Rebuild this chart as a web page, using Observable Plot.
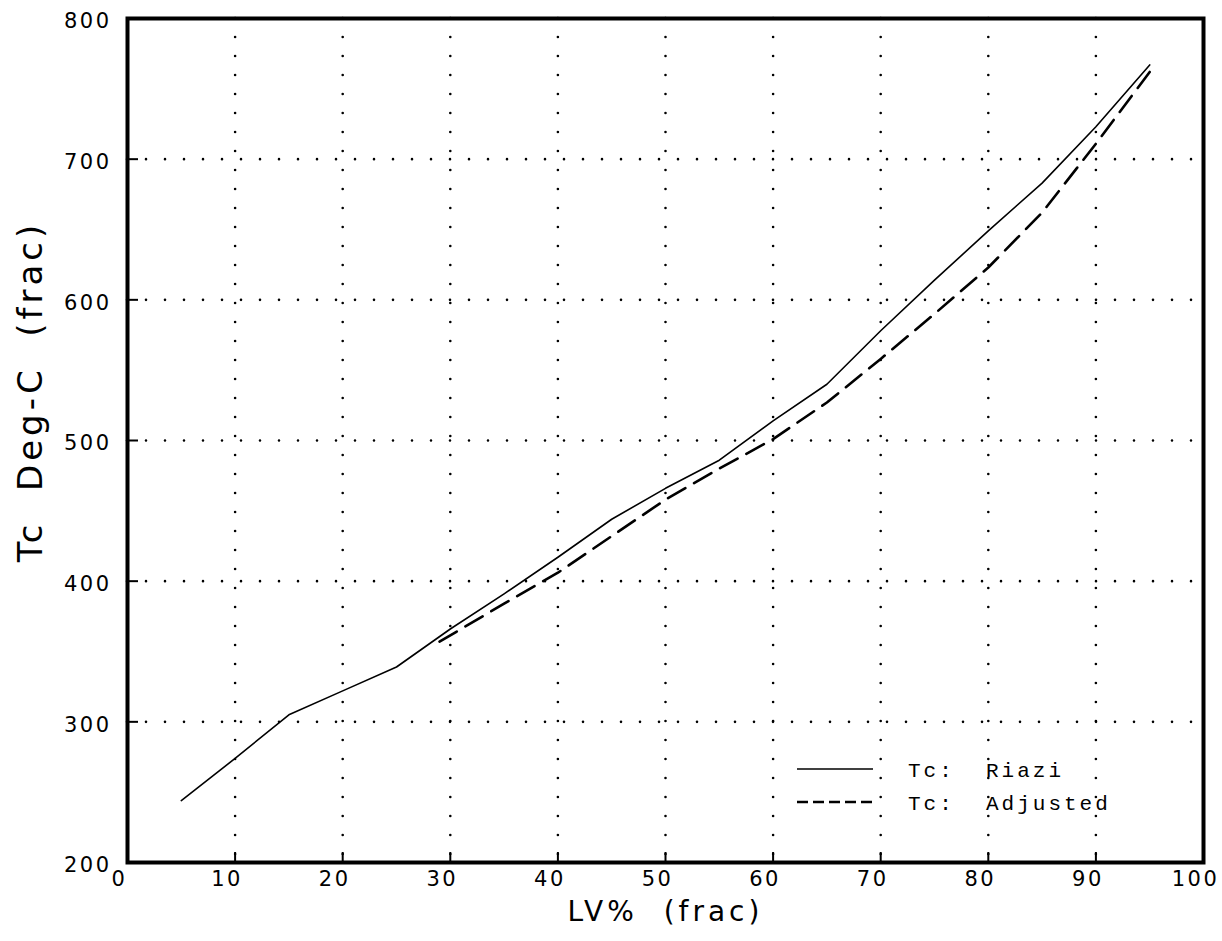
<!DOCTYPE html>
<html><head><meta charset="utf-8">
<script src="https://cdn.jsdelivr.net/npm/d3@7"></script>
<script src="https://cdn.jsdelivr.net/npm/@observablehq/plot@0.6"></script>
<style>
body{margin:0;background:#fff;}
#wrap{position:relative;width:1222px;height:941px;}
svg text{white-space:pre;}
g[aria-label$="tick label"]{font-size:21px !important;}
g[aria-label$="tick label"] text{letter-spacing:2.5px;font-size:21px;}
#legend{position:absolute;left:0;top:0;pointer-events:none;}
#legend text{font-family:"Liberation Mono",monospace;font-size:21px;letter-spacing:3px;white-space:pre;}
</style></head><body><div id="wrap"></div>
<script>
// ---- data ----
const lvRiazi = [5,10,15,20,25,30,35,40,45,50,55,60,65,70,75,80,85,90,95];
const tcRiazi = [244,274,305,322,339,366,391,417,444,466,486,514,540,578,614,649,683,723,767];
const lvAdjusted = [29,35,40,45,50,55,60,65,70,75,80,85,90,95];
const tcAdjusted = [357,384,406,432,458,480,501,527,558,590,623,662,711,762];
const xTicks = [0,10,20,30,40,50,60,70,80,90,100];
const yTicks = [200,300,400,500,600,700,800];
const xGrid = [10,20,30,40,50,60,70,80,90];
const yGrid = [300,400,500,600,700];
const xLabel = "LV%  (frac)";
const yLabel = "Tc  Deg-C  (frac)";
const seriesNames = ["Tc:  Riazi","Tc:  Adjusted"];

const riazi = lvRiazi.map((lv,i)=>({lv, tc: tcRiazi[i]}));
const adjusted = lvAdjusted.map((lv,i)=>({lv, tc: tcAdjusted[i]}));

const W=1222, H=941, mL=127, mR=19, mT=18, mB=79;
const innerW = W-mL-mR, innerH = H-mT-mB;
const dots = {stroke:"#000", strokeOpacity:1, strokeWidth:2.6, strokeDasharray:"0,19", strokeLinecap:"round"};

const chart = Plot.plot({
  width:W, height:H, marginLeft:mL, marginRight:mR, marginTop:mT, marginBottom:mB,
  style:{fontFamily:"'DejaVu Sans', sans-serif", fontSize:"21px", background:"#fff", color:"#000"},
  x:{domain:[0,100]},
  y:{domain:[200,800]},
  marks:[
    Plot.gridX(xGrid, dots),
    Plot.gridY(yGrid, dots),
    Plot.tickX(xGrid, {x:d=>d, insetTop: innerH-10, stroke:"#000", strokeWidth:2}),
    Plot.tickY(yGrid, {y:d=>d, insetRight: innerW-11, stroke:"#000", strokeWidth:2}),
    Plot.axisX(xTicks, {tickSize:0, tickPadding:9, dx:-8, fontSize:21, label:null}),
    Plot.axisY(yTicks, {tickSize:0, tickPadding:16, dy:3, fontSize:21, label:null}),
    Plot.line(riazi, {x:"lv", y:"tc", stroke:"#000", strokeWidth:1.6}),
    Plot.line(adjusted, {x:"lv", y:"tc", stroke:"#000", strokeWidth:2.6, strokeDasharray:"20,10"}),
    Plot.frame({stroke:"#000", strokeWidth:4}),
    Plot.text([xLabel], {text:d=>d, frameAnchor:"bottom", textAnchor:"middle", lineAnchor:"middle", dy:50, fontSize:28}),
    Plot.text([yLabel], {text:d=>d, frameAnchor:"left", textAnchor:"middle", lineAnchor:"middle", rotate:-90, dx:-96, dy:-49, fontSize:34})
  ]
});
chart.querySelectorAll('g[aria-label="text"] text').forEach(t=>t.setAttribute("letter-spacing","4"));
const wrap = document.getElementById("wrap");
wrap.appendChild(chart);

// legend overlay
const ns = "http://www.w3.org/2000/svg";
const lg = document.createElementNS(ns,"svg");
lg.setAttribute("id","legend"); lg.setAttribute("width",W); lg.setAttribute("height",H);
const rows = [{y:769, dash:null, w:1.6},{y:802, dash:"11,5", w:2.4}];
rows.forEach((r,i)=>{
  const l = document.createElementNS(ns,"line");
  l.setAttribute("x1",797); l.setAttribute("x2",873);
  l.setAttribute("y1",r.y); l.setAttribute("y2",r.y);
  l.setAttribute("stroke","#000"); l.setAttribute("stroke-width",r.w);
  if (r.dash) l.setAttribute("stroke-dasharray",r.dash);
  lg.appendChild(l);
  const t = document.createElementNS(ns,"text");
  t.setAttribute("x",908); t.setAttribute("y",r.y+8);
  t.textContent = seriesNames[i];
  lg.appendChild(t);
});
wrap.appendChild(lg);
</script>
</body></html>
